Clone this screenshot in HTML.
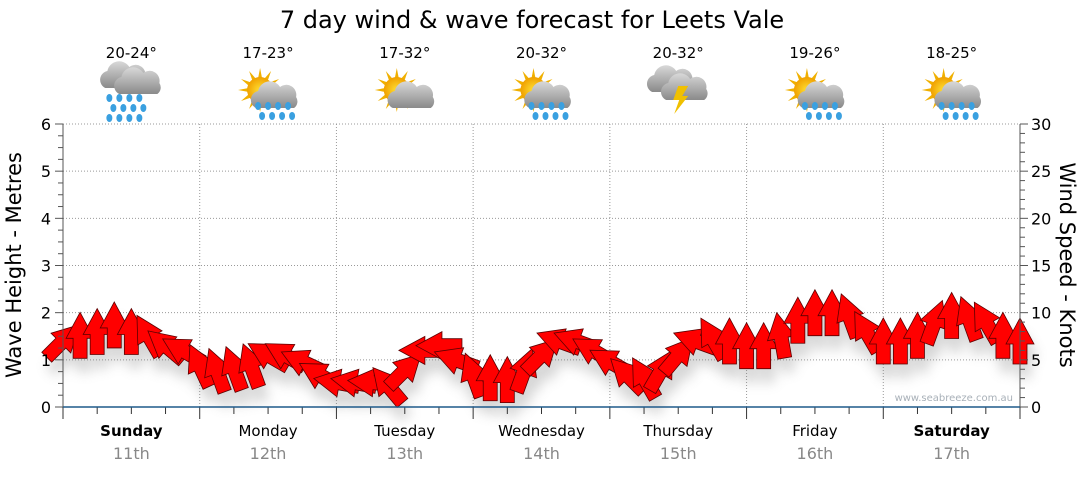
<!DOCTYPE html>
<html><head><meta charset="utf-8"><style>
body{margin:0;background:#fff;}
svg text{font-family:"DejaVu Sans","Liberation Sans",sans-serif;}
</style></head><body>
<svg id="chart" width="1080" height="475" viewBox="0 0 1080 475" xmlns="http://www.w3.org/2000/svg">
<defs>
<filter id="sh" x="-50%" y="-50%" width="200%" height="200%"><feGaussianBlur stdDeviation="6"/></filter>
<radialGradient id="sun" cx="50%" cy="50%" r="50%"><stop offset="0" stop-color="#ffe033"/><stop offset="1" stop-color="#f0a000"/></radialGradient>
<linearGradient id="cld" x1="0" y1="0" x2="0" y2="1"><stop offset="0" stop-color="#d8d8d8"/><stop offset="1" stop-color="#8a8a8a"/></linearGradient>
</defs>
<text x="532" y="28" font-size="24" text-anchor="middle" fill="#000">7 day wind &amp; wave forecast for Leets Vale</text>
<g id="grid"></g>
<g id="icons"></g>
<g id="shadow" filter="url(#sh)" opacity="0.3"></g>
<g id="arrows"></g>
<g id="axes"></g>
<text transform="translate(21,265) rotate(-90)" font-size="21" text-anchor="middle" fill="#000">Wave Height - Metres</text>
<text transform="translate(1060,265) rotate(90)" font-size="21" text-anchor="middle" fill="#000">Wind Speed - Knots</text>
<text x="1013" y="401" font-size="10" text-anchor="end" fill="#a8b0b8">www.seabreeze.com.au</text>
</svg>
<script>
const days=["Sunday","Monday","Tuesday","Wednesday","Thursday","Friday","Saturday"];
const dates=["11th","12th","13th","14th","15th","16th","17th"];
const temps=["20-24°","17-23°","17-32°","20-32°","20-32°","19-26°","18-25°"];
const iconTypes=["rain","sunrain","suncloud","sunrain","storm","sunrain","sunrain"];
const boldDays=[true,false,false,false,false,false,true];
const waveTicks=[0,1,2,3,4,5,6];
const windTicks=[0,5,10,15,20,25,30];
// wind speed (knots) every 3 hours
const windSpeed=[7,7.6,8,8.7,8,7.6,6.5,6,
4.4,3.9,4.1,4.4,5.5,5.5,4.8,3.4,
2.6,2.6,2.6,2.3,3.9,6,6.5,5,
3.4,3.1,2.9,3.9,5.5,7,7,6,
4.8,3.4,3.1,3.9,5.5,7,7.3,7,
6.5,6.5,7.6,9.2,10,10,9.7,8,
7,7,7.6,9,9.7,9.4,9,7.6,7];
// direction arrow points to (deg, 0=up, clockwise)
const windDir=[45,0,0,0,0,-30,-50,-60,
-25,-20,-20,-20,-60,-60,-65,-60,
-80,-80,-85,-40,45,-90,-90,-70,
-20,0,0,20,45,-70,-70,-60,
-60,-45,-30,30,40,-70,-30,0,
0,0,-10,0,0,0,-20,-30,
0,0,0,20,0,-20,-30,0,0];

const NS="http://www.w3.org/2000/svg";
const X0=63,X1=1020,Y0=407,Y1=124;
const xDay=d=>X0+(X1-X0)*d/7;
const yWave=v=>Y0-(Y0-Y1)*v/6;
const yWind=v=>Y0-(Y0-Y1)*v/30;
function mk(tag,attrs,parent){const e=document.createElementNS(NS,tag);for(const k in attrs)e.setAttribute(k,attrs[k]);parent.appendChild(e);return e;}
const grid=document.getElementById('grid'),axes=document.getElementById('axes');
waveTicks.forEach(v=>{if(v>0){const l=mk('line',{x1:X0,x2:X1,y1:yWave(v),y2:yWave(v),stroke:'#999','stroke-dasharray':'1,2'},grid);

}
const t=mk('text',{x:X0-12,y:yWave(v)+6,'font-size':16,'text-anchor':'end',fill:'#000'},axes);t.textContent=v;

});
windTicks.forEach(v=>{const t=mk('text',{x:X1+11,y:yWind(v)+6,'font-size':16,fill:'#000'},axes);t.textContent=v;

});
for(let i=0;i<=24;i++){const y=Y0-(Y0-Y1)*i/24;mk('line',{x1:X0-(i%4?5:8),x2:X0,y1:y,y2:y,stroke:'#555'},axes);}
for(let i=0;i<=30;i++){const y=yWind(i);mk('line',{x1:X1,x2:X1+(i%5?5:8),y1:y,y2:y,stroke:'#555'},axes);}
for(let d=1;d<7;d++){const l=mk('line',{x1:xDay(d),x2:xDay(d),y1:Y1,y2:Y0,stroke:'#999','stroke-dasharray':'1,2'},grid);

}
for(let i=0;i<=28;i++){const x=X0+(X1-X0)*i/28;mk('line',{x1:x,x2:x,y1:Y0,y2:Y0+(i%4?7:12),stroke:'#333'},axes);}
mk('line',{x1:X0,x2:X0,y1:Y1,y2:Y0,stroke:'#555'},axes);
mk('line',{x1:X1,x2:X1,y1:Y1,y2:Y0,stroke:'#555'},axes);
mk('line',{x1:X0,x2:X1,y1:Y0,y2:Y0,stroke:'#1f5a8a','stroke-width':1.5},axes);
days.forEach((d,i)=>{const cx=xDay(i+0.5);
const t=mk('text',{x:cx,y:436,'font-size':15,'text-anchor':'middle',fill:'#000','font-weight':boldDays[i]?'bold':'normal'},axes);t.textContent=d;


const t2=mk('text',{x:cx,y:459,'font-size':16,'text-anchor':'middle',fill:'#888'},axes);t2.textContent=dates[i];


const t3=mk('text',{x:cx,y:58,'font-size':15,'text-anchor':'middle',fill:'#000'},axes);t3.textContent=temps[i];

});
// icons
const icons=document.getElementById('icons');
function cloud(g,x,y,s){mk('path',{d:`M${x-20*s},${y+10*s} a9,9 0 0 1 2,-17 a12,12 0 0 1 22,-4 a10,10 0 0 1 16,10 a8,8 0 0 1 -2,11 z`,fill:'url(#cld)'},g);}
function drops(g,x,y,n){for(let r=0;r<n;r++)for(let c=0;c<4;c++)mk('ellipse',{cx:x+c*10+(r%2)*4,cy:y+r*10,rx:3,ry:4,fill:'#3aa0e0'},g);}
function sun(g,x,y){for(let a=0;a<360;a+=30){const r=Math.PI*a/180;mk('polygon',{points:`${x+Math.cos(r)*22},${y+Math.sin(r)*22} ${x+Math.cos(r+0.2)*11},${y+Math.sin(r+0.2)*11} ${x+Math.cos(r-0.2)*11},${y+Math.sin(r-0.2)*11}`,fill:'#f0b000'},g);}mk('circle',{cx:x,cy:y,r:13,fill:'url(#sun)'},g);}
iconTypes.forEach((t,i)=>{const cx=xDay(i+0.5);const g=mk('g',{},icons);


if(t==='rain'){cloud(g,cx-6,78,1);cloud(g,cx+8,84,1);drops(g,cx-22,98,3);}
else if(t==='storm'){cloud(g,cx-6,82,1);cloud(g,cx+8,90,1);mk('polygon',{points:`${cx},86 ${cx+10},86 ${cx+4},96 ${cx+10},96 ${cx-4},114 ${cx+1},100 ${cx-5},100`,fill:'#f0c000'},g);}
else{sun(g,cx-8,90);cloud(g,cx+8,98,1);if(t==='sunrain')drops(g,cx-10,106,2);}
});
// arrows
const arrows=document.getElementById('arrows'),shadow=document.getElementById('shadow');
const n=windSpeed.length;
const shape="M-7,23 L-7,3 L-14,3 L0,-23 L14,3 L7,3 L7,23 Z";
windSpeed.forEach((v,i)=>{const x=X0+(X1-X0)*i/(n-1),y=yWind(v);
const s=mk('path',{d:shape,transform:`translate(${x+4},${y+14}) rotate(${windDir[i]})`,fill:'#777'},shadow);


const a=mk('path',{d:shape,transform:`translate(${x},${y}) rotate(${windDir[i]})`,fill:'#ff0000',stroke:'#5a0000','stroke-width':0.8},arrows);

});
</script>
</body></html>
